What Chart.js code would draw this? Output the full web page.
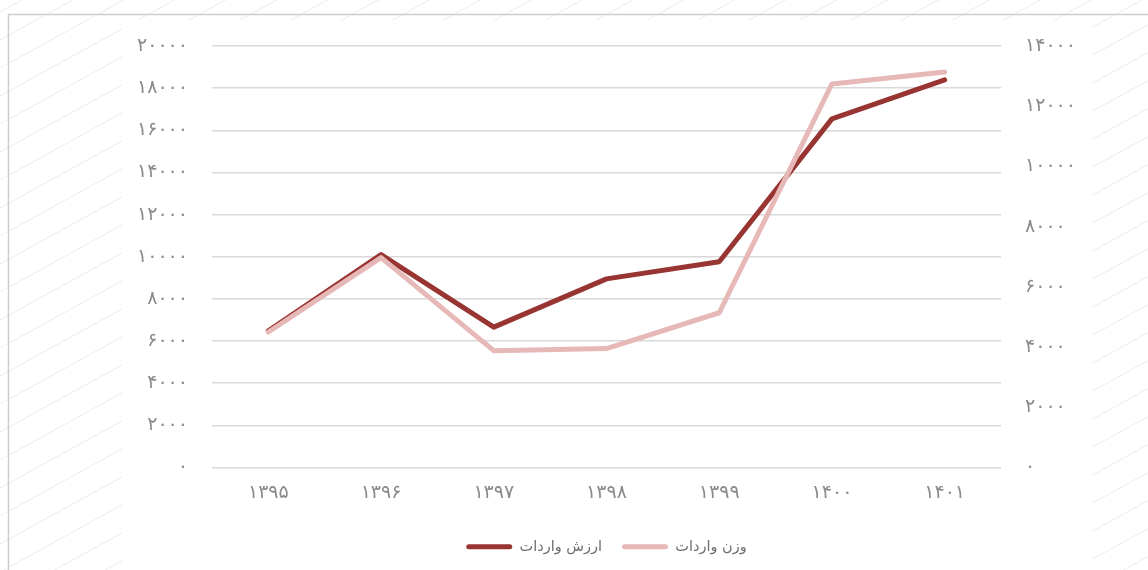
<!DOCTYPE html>
<html>
<head>
<meta charset="utf-8">
<script src="https://cdn.jsdelivr.net/npm/chart.js@4"></script>
<style>
  html, body { margin: 0; padding: 0; background: #fff; }
  #wrap { width: 1148px; height: 570px; }
</style>
</head>
<body>
<div id="wrap"><canvas id="chart" width="1148" height="570"></canvas></div>
<script>
const years        = ['۱۳۹۵', '۱۳۹۶', '۱۳۹۷', '۱۳۹۸', '۱۳۹۹', '۱۴۰۰', '۱۴۰۱'];
const importValue  = [6480, 10100, 6660, 8950, 9760, 16540, 18390];
const importWeight = [4500, 6970, 3880, 3950, 5140, 12740, 13140];

const valueLabel  = 'ارزش واردات';
const weightLabel = 'وزن واردات';

const darkRed  = '#983532';
const lightRed = '#e6b9b8';
const tickGray = '#8a8a8a';

// western digits -> persian digits
function toFa(n) {
    return String(n).replace(/\d/g, d => '۰۱۲۳۴۵۶۷۸۹'[d]);
}

// hatched backdrop with a white panel and a thin frame, like the source image
const backdrop = {
    id: 'backdrop',
    beforeDraw(chart) {
        const ctx = chart.ctx;
        const w = chart.width, h = chart.height;
        ctx.save();
        ctx.fillStyle = '#fff';
        ctx.fillRect(0, 0, w, h);

        ctx.strokeStyle = '#ebebeb';
        ctx.lineWidth = 1;
        for (let c = -100; c < h + w * 0.55 + 100; c += 28) {
            ctx.beginPath();
            ctx.moveTo(0, c);
            ctx.lineTo(w, c - w * 0.55);
            ctx.stroke();
        }

        ctx.fillStyle = '#fff';
        ctx.fillRect(122, 20, 971, h - 20);

        ctx.strokeStyle = '#cdcdcd';
        ctx.lineWidth = 1.5;
        ctx.beginPath();
        ctx.moveTo(8.5, h);
        ctx.lineTo(8.5, 14.5);
        ctx.lineTo(w, 14.5);
        ctx.stroke();
        ctx.restore();
    }
};

const tickFont = { family: 'DejaVu Sans', size: 19 };

new Chart(document.getElementById('chart'), {
    type: 'line',
    data: {
        labels: years,
        datasets: [
            {
                label: valueLabel,
                data: importValue,
                yAxisID: 'y',
                borderColor: darkRed,
                backgroundColor: darkRed,
                borderWidth: 5,
                borderCapStyle: 'round',
                borderJoinStyle: 'round',
                pointRadius: 0,
                tension: 0,
                order: 1
            },
            {
                label: weightLabel,
                data: importWeight,
                yAxisID: 'y1',
                borderColor: lightRed,
                backgroundColor: lightRed,
                borderWidth: 5,
                borderCapStyle: 'round',
                borderJoinStyle: 'round',
                pointRadius: 0,
                tension: 0,
                order: 0
            }
        ]
    },
    options: {
        responsive: false,
        animation: false,
        layout: { padding: { top: 46, left: 0, right: 0, bottom: 6 } },
        plugins: {
            tooltip: { enabled: false },
            legend: {
                position: 'bottom',
                fullSize: false,
                labels: {
                    sort: (a, b) => a.datasetIndex - b.datasetIndex,
                    generateLabels(chart) {
                        const items = Chart.defaults.plugins.legend.labels.generateLabels(chart);
                        items.forEach(it => { it.lineWidth = 0; });
                        return items;
                    },
                    color: '#6f6f6f',
                    font: { family: 'DejaVu Sans', size: 14.5 },
                    boxWidth: 46,
                    boxHeight: 5,
                    useBorderRadius: true,
                    borderRadius: 2.5,
                    padding: 20
                }
            }
        },
        scales: {
            x: {
                offset: true,
                grid: { display: false, drawTicks: false, offset: true },
                border: { display: false },
                ticks: { color: tickGray, font: tickFont, padding: 14, maxRotation: 0 },
                afterFit(scale) { scale.height = 52; }
            },
            y: {
                position: 'left',
                min: 0,
                max: 20000,
                grid: { color: '#d9d9d9', lineWidth: 1.5, drawTicks: false },
                border: { display: false },
                ticks: {
                    stepSize: 2000,
                    color: tickGray,
                    font: tickFont,
                    padding: 24,
                    callback: v => toFa(v)
                },
                afterFit(scale) { scale.width = 212; }
            },
            y1: {
                position: 'right',
                min: 0,
                max: 14000,
                grid: { drawOnChartArea: false, drawTicks: false },
                border: { display: false },
                ticks: {
                    stepSize: 2000,
                    color: tickGray,
                    font: tickFont,
                    padding: 24,
                    callback: v => toFa(v)
                },
                afterFit(scale) { scale.width = 147; }
            }
        }
    },
    plugins: [backdrop]
});
</script>
</body>
</html>
